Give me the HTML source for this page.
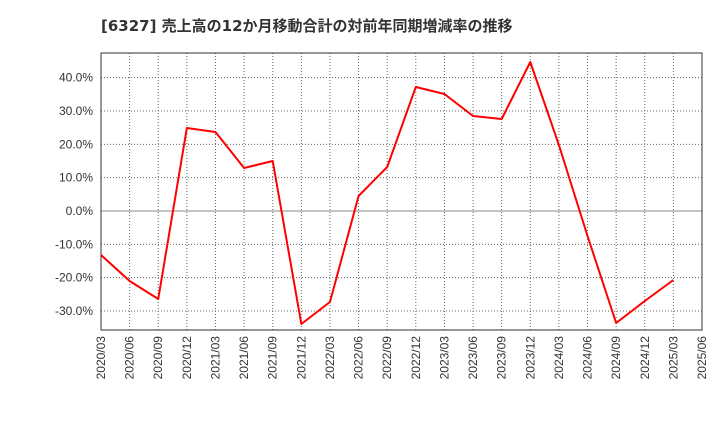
<!DOCTYPE html>
<html><head><meta charset="utf-8"><style>
body{margin:0;background:#fff;}
svg{display:block;font-family:"Liberation Sans","Noto Sans CJK JP",sans-serif;}
</style></head><body>
<svg id="chart" width="720" height="440">
<text x="101" y="31" font-size="15" font-weight="bold" fill="#333" font-family="DejaVu Sans, Noto Sans CJK JP, sans-serif">[6327]  売上高の12か月移動合計の対前年同期増減率の推移</text>
<g id="grid"></g><g id="axes"></g><g id="series"></g>
</svg>
<script>
const categories=["2020/03","2020/06","2020/09","2020/12","2021/03","2021/06","2021/09","2021/12","2022/03","2022/06","2022/09","2022/12","2023/03","2023/06","2023/09","2023/12","2024/03","2024/06","2024/09","2024/12","2025/03","2025/06"];
const values=[-13.2,-21.0,-26.4,24.9,23.7,12.9,15.0,-33.9,-27.3,4.5,13.2,37.2,35.1,28.5,27.6,44.7,19.8,-7.5,-33.6,-27.0,-20.7];
const yTicks=[-30,-20,-10,0,10,20,30,40];
const X0=101,X1=702,Y0=53,Y1=330,YMAX=47.4,YMIN=-35.7;
const NS="http://www.w3.org/2000/svg";
const xs=i=>X0+(X1-X0)*i/(categories.length-1);
const ys=v=>Y0+(YMAX-v)/(YMAX-YMIN)*(Y1-Y0);
function mk(tag,attrs,parent){const e=document.createElementNS(NS,tag);for(const k in attrs)e.setAttribute(k,attrs[k]);parent.appendChild(e);return e;}
const grid=document.getElementById('grid'),axes=document.getElementById('axes'),series=document.getElementById('series');
categories.forEach((c,i)=>{
  const x=xs(i);
  const l=mk('line',{x1:x,x2:x,y1:Y0,y2:Y1,stroke:'#666','stroke-width':1,'stroke-dasharray':'1,2'},grid);
  
  
  const t=mk('text',{x:0,y:0,'font-size':12,fill:'#333','text-anchor':'end',transform:`translate(${x+4},${Y1+6}) rotate(-90)`},axes);
  t.textContent=c;
  
  
});
yTicks.forEach(v=>{
  const y=ys(v);
  const l=mk('line',{x1:X0,x2:X1,y1:y,y2:y,stroke:v===0?'#888':'#666','stroke-width':1,'stroke-dasharray':v===0?'none':'1,2'},grid);
  
  
  const t=mk('text',{x:X0-8,y:y+4,'font-size':12,fill:'#333','text-anchor':'end'},axes);
  t.textContent=v.toFixed(1)+'%';
  
  
});
const frame=mk('rect',{x:X0,y:Y0,width:X1-X0,height:Y1-Y0,fill:'none',stroke:'#333','stroke-width':1},axes);


const pts=values.map((v,i)=>xs(i)+','+ys(v)).join(' ');
const line=mk('polyline',{points:pts,fill:'none',stroke:'#f00','stroke-width':2,'stroke-linejoin':'round'},series);


</script>
</body></html>
